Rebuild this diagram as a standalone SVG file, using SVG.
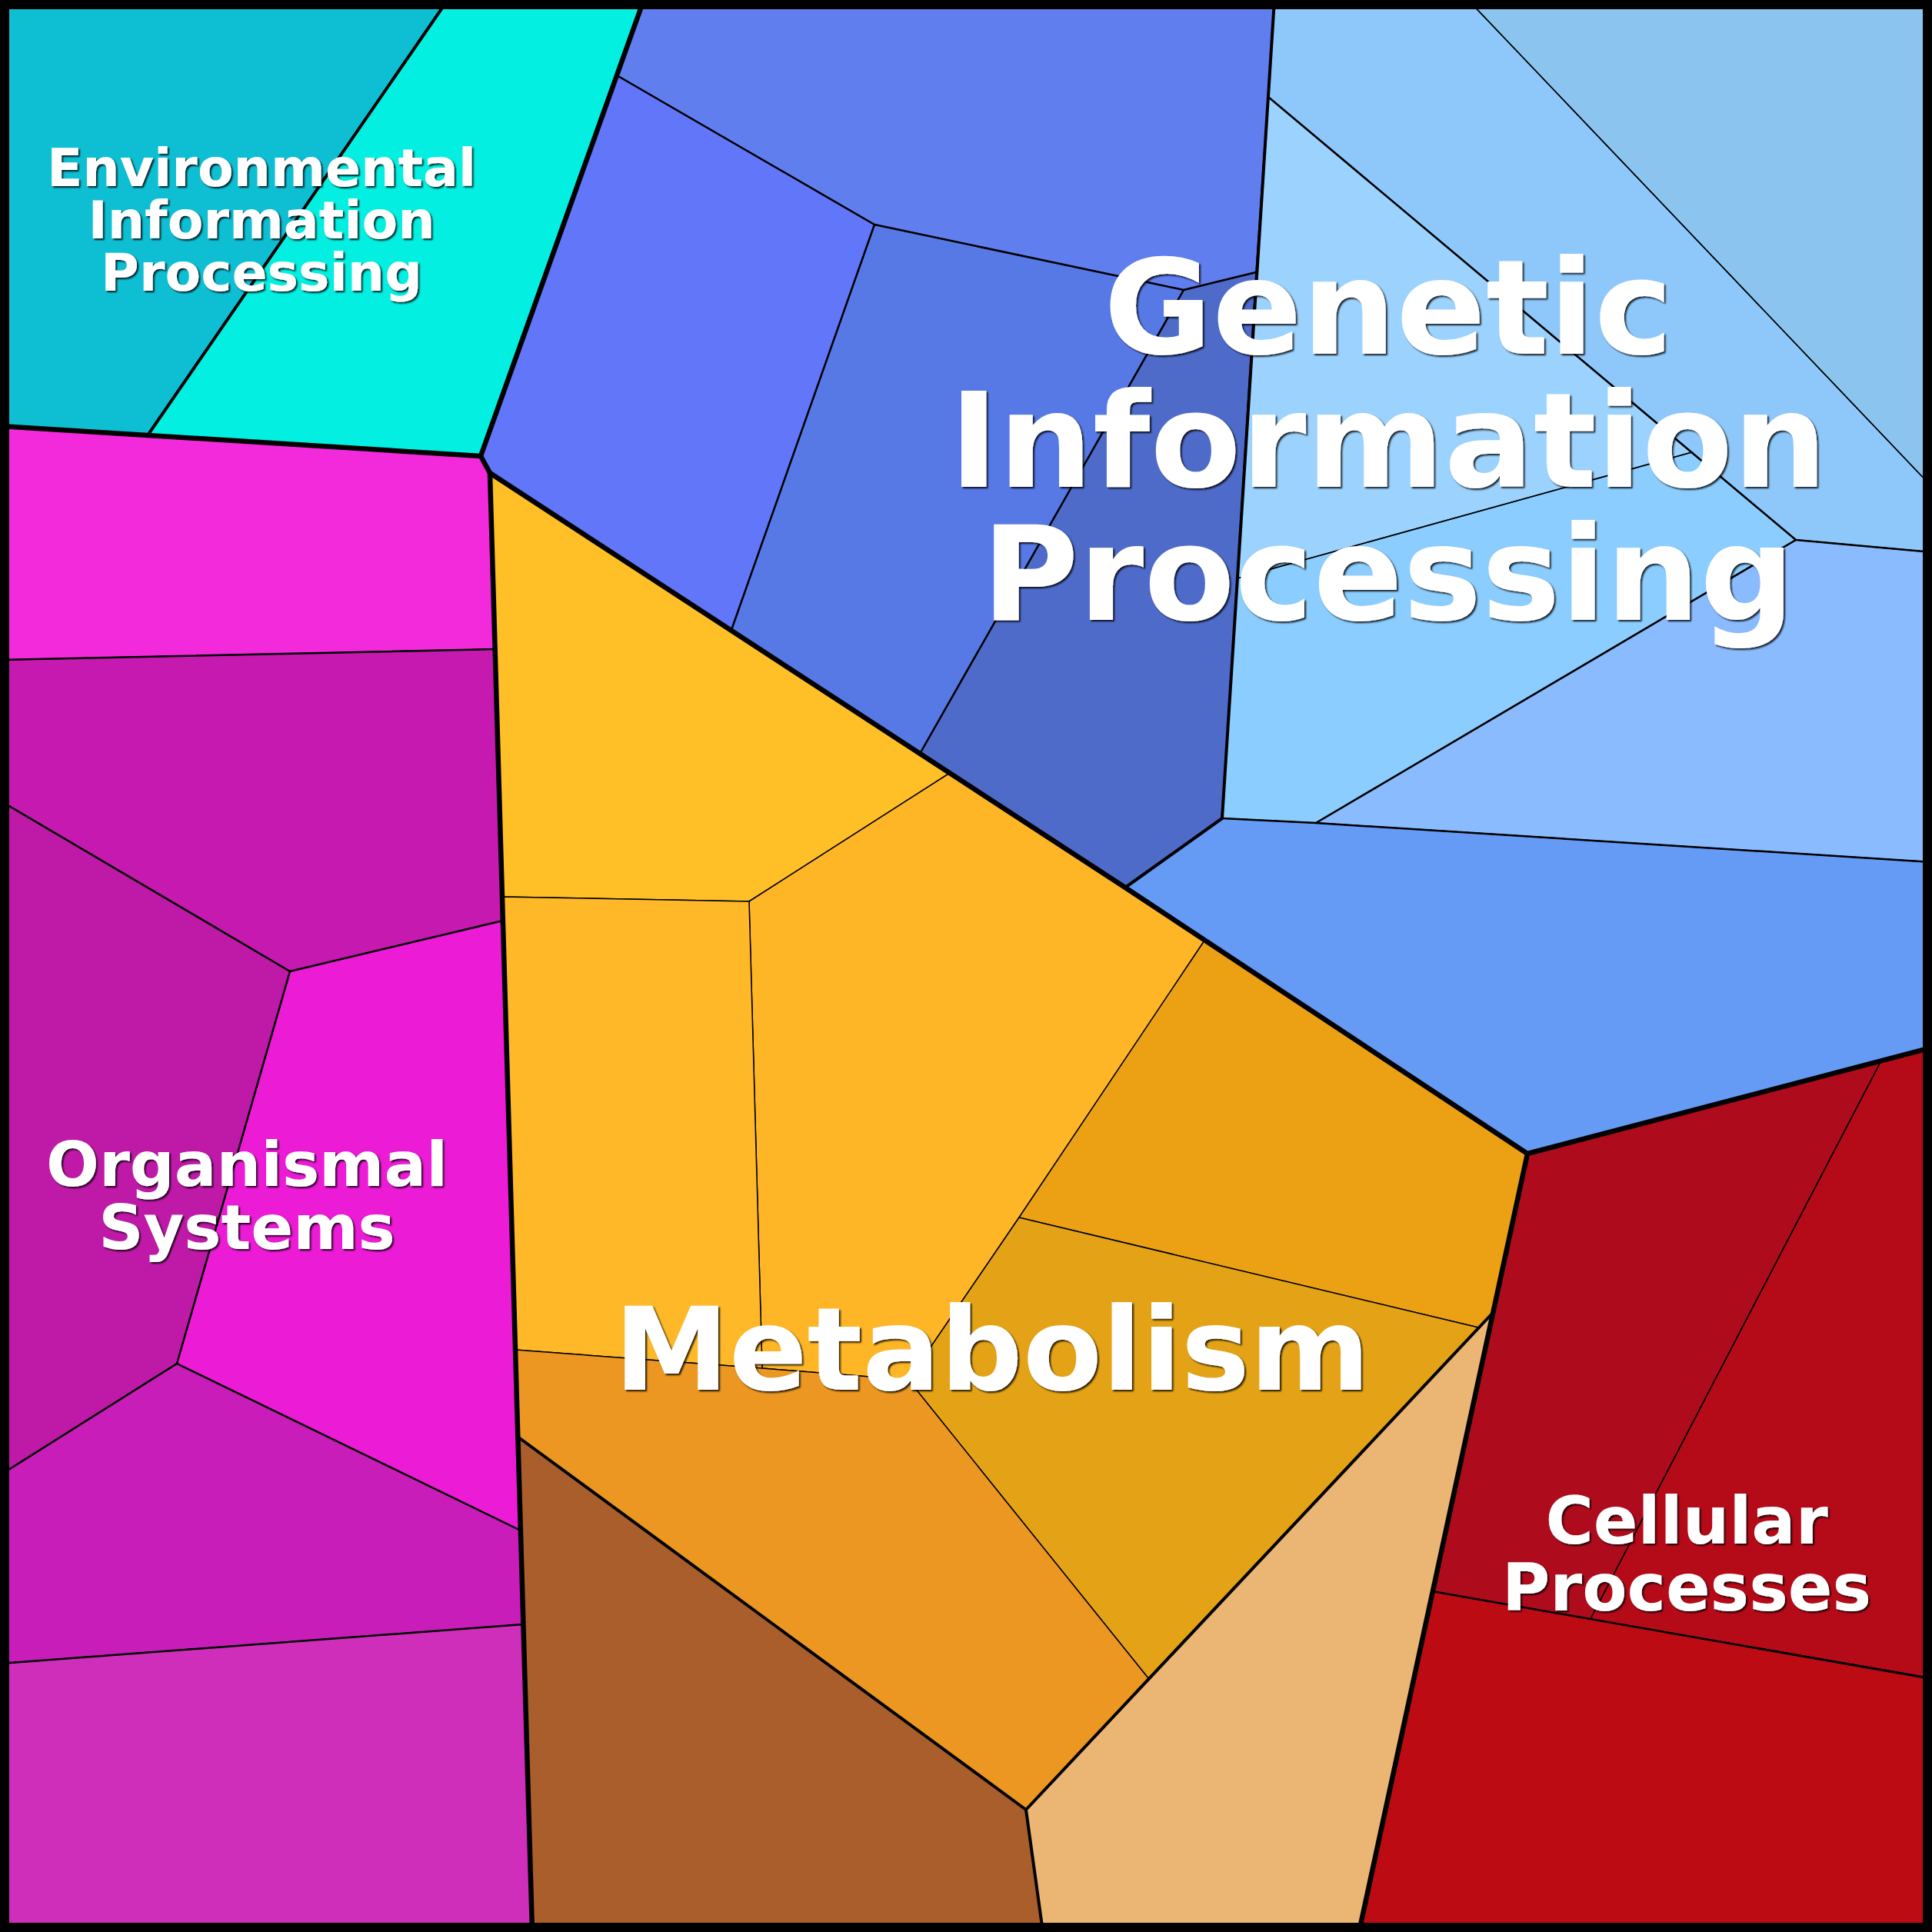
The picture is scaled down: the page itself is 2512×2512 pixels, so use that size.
<svg xmlns="http://www.w3.org/2000/svg" width="2512" height="2512" viewBox="0 0 2512 2512">
<defs>
<style>
.c{stroke:#000;stroke-width:1.5;stroke-linejoin:round}
.l{fill:none;stroke:#000;stroke-linejoin:round;stroke-linecap:round}
.t{font-family:"DejaVu Sans",Verdana,sans-serif;font-weight:bold;fill:#fff;text-anchor:middle;filter:url(#sh)}
</style>
<filter id="sh" x="-5%" y="-5%" width="110%" height="120%">
<feDropShadow dx="2" dy="2" stdDeviation="1" flood-color="#000" flood-opacity="0.85"/>
</filter>
</defs>
<rect width="2512" height="2512" fill="#fff"/>
<g id="environmental">
<polygon class="c" fill="#0EBFD4" points="0,0 582,0 192,566 0,554"/>
<polygon class="c" fill="#03EFE1" points="582,0 837,0 625,593 192,566"/>
</g>
<g id="genetic">
<polygon class="c" fill="#617EEF" points="837,0 1657,0 1633,354 1539,377 1137,292 802,98"/>
<polygon class="c" fill="#6176F8" points="802,98 1137,292 951,819 637,615 625,593"/>
<polygon class="c" fill="#5679E5" points="1137,292 1539,377 1196,980 951,819"/>
<polygon class="c" fill="#4E6BC9" points="1539,377 1633,354 1589,1064 1463,1154 1196,980"/>
<polygon class="c" fill="#8EC8FA" points="1657,0 1909,0 2512,633 2512,718 2335,702 1649,126"/>
<polygon class="c" fill="#8BC4EE" points="1909,0 2512,0 2512,633"/>
<polygon class="c" fill="#9BD2FE" points="1649,126 2200,588 1609,752"/>
<polygon class="c" fill="#8BCDFE" points="1609,752 2200,588 2335,702 1711,1070 1589,1064"/>
<polygon class="c" fill="#8ABBFE" points="2335,702 2512,718 2512,1121 1711,1070"/>
<polygon class="c" fill="#659BF5" points="1589,1064 1711,1070 2512,1121 2512,1362 1986,1500 1463,1154"/>
</g>
<g id="organismal">
<polygon class="c" fill="#F22ADC" points="0,554 625,593 637,615 644,844 0,858"/>
<polygon class="c" fill="#C519AF" points="0,858 644,844 654,1197 377,1263 0,1041"/>
<polygon class="c" fill="#BF19A8" points="0,1041 377,1263 230,1773 0,1918"/>
<polygon class="c" fill="#EC1BD6" points="377,1263 654,1197 677,1990 230,1773"/>
<polygon class="c" fill="#C81DB9" points="0,1918 230,1773 677,1990 680,2112 0,2163"/>
<polygon class="c" fill="#CE2EB9" points="0,2163 680,2112 692,2512 0,2512"/>
</g>
<g id="metabolism">
<polygon class="c" fill="#FFBF26" points="637,615 1235,1005 974,1172 653,1166"/>
<polygon class="c" fill="#FFB626" points="1235,1005 1566,1223 1325,1583 1181,1794 991,1779 974,1172"/>
<polygon class="c" fill="#FFB828" points="653,1166 974,1172 991,1779 670,1755"/>
<polygon class="c" fill="#ECA115" points="1566,1223 1986,1500 1939,1709 1922,1726 1325,1583"/>
<polygon class="c" fill="#E4A316" points="1325,1583 1922,1726 1493,2182 1181,1794"/>
<polygon class="c" fill="#EB9722" points="670,1755 991,1779 1181,1794 1493,2182 1334,2353 673,1868"/>
<polygon class="c" fill="#A95E2B" points="673,1868 1334,2353 1356,2512 692,2512"/>
<polygon class="c" fill="#EBB574" points="1939,1709 1767,2512 1356,2512 1334,2353"/>
</g>
<g id="cellular">
<polygon class="c" fill="#AE0C1D" points="1986,1500 2446,1379 2068,2105 1862,2069"/>
<polygon class="c" fill="#B50A18" points="2446,1379 2512,1362 2512,2182 2068,2105"/>
<polygon class="c" fill="#BC0B13" points="1862,2069 2068,2105 2512,2182 2512,2512 1767,2512"/>
</g>
<g id="connectors">
<g class="l" stroke-width="1.2">
<polyline points="1909,0 2512,633"/>
<polyline points="2446,1379 2068,2105"/>
<polyline points="2200,588 1609,752"/>
</g>
<g class="l" stroke-width="2.5">
<polyline points="802,98 1137,292 1539,377 1633,354"/>
<polyline points="1137,292 951,819"/>
<polyline points="1539,377 1196,980"/>
<polyline points="1649,126 2335,702 2512,718"/>
<polyline points="2335,702 1711,1070"/>
<polyline points="1589,1064 1711,1070 2512,1121"/>
<polyline points="0,858 644,844"/>
<polyline points="0,1041 377,1263 654,1197"/>
<polyline points="377,1263 230,1773 677,1990"/>
<polyline points="0,1918 230,1773"/>
<polyline points="0,2163 680,2112"/>
<polyline points="1862,2069 2512,2183"/>
</g>
<g class="l" stroke-width="4">
<polyline points="582,0 192,566"/>
<polyline points="1657,0 1589,1064 1463,1154"/>
<polyline points="673,1868 1334,2353 1356,2512"/>
<polyline points="1939,1709 1334,2353"/>
</g>
<g class="l" stroke-width="6.5">
<polyline points="0,554 625,593 837,0"/>
<polyline points="625,593 637,615 1463,1154 1986,1500 2512,1362"/>
<polyline points="637,615 692,2512"/>
<polyline points="1986,1500 1767,2512"/>
</g>
</g>
<rect x="0" y="0" width="2512" height="2512" fill="none" stroke="#000" stroke-width="24"/>
<g id="labels">
<text class="t" font-size="68" x="340" y="242">Environmental</text>
<text class="t" font-size="68" x="340" y="310">Information</text>
<text class="t" font-size="68" x="340" y="378">Processing</text>
<text class="t" font-size="172" x="1805" y="460">Genetic</text>
<text class="t" font-size="172" x="1805" y="633">Information</text>
<text class="t" font-size="172" x="1805" y="806">Processing</text>
<text class="t" font-size="150" x="1290" y="1807">Metabolism</text>
<text class="t" font-size="81" x="321" y="1542">Organismal</text>
<text class="t" font-size="81" x="321" y="1624">Systems</text>
<text class="t" font-size="85" x="2193" y="2007">Cellular</text>
<text class="t" font-size="85" x="2193" y="2094">Processes</text>
</g>
</svg>
